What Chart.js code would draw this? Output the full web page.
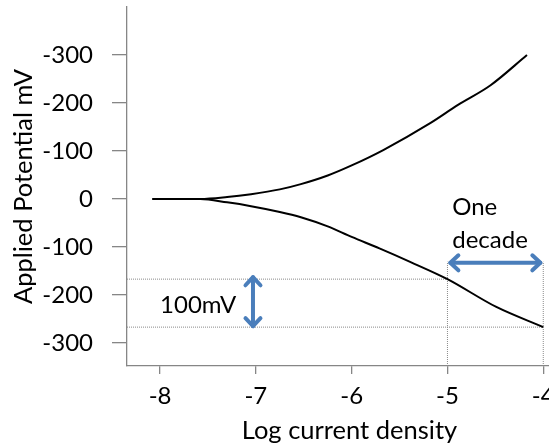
<!DOCTYPE html>
<html>
<head>
<meta charset="utf-8">
<script src="https://cdn.jsdelivr.net/npm/chart.js@4.4.1/dist/chart.umd.min.js"></script>
<style>
  html, body { margin:0; padding:0; background:#fff; overflow:hidden; }
  #wrap { width:549px; height:448px; overflow:hidden; }
</style>
</head>
<body>
<div id="wrap"><canvas id="polChart" width="600" height="448"></canvas></div>
<script>
/* ── Polarisation (Tafel) plot ── */

// anodic branch (drawn upward)
const ANODIC_LOGI = [-8.08, -7.58, -7.30, -7.05, -6.75, -6.53, -6.25, -6.00, -5.67, -5.18, -4.89, -4.55, -4.17];
const ANODIC_MV   = [0, 0, 4, 10, 20, 31, 49, 70, 102, 158, 196, 237, 300];

// cathodic branch (drawn downward)
const CATHODIC_LOGI = [-8.08, -7.58, -7.30, -7.05, -6.75, -6.53, -6.25, -6.00, -5.71, -5.39, -5.00, -4.49, -4.00];
const CATHODIC_MV   = [0, 0, -7, -15, -27, -38, -57, -79, -103, -131, -167, -225, -267];

const X_TICKS = [-8, -7, -6, -5, -4];
const Y_TICKS = [-300, -200, -100, 0, 100, 200, 300];
const Y_TICK_LABELS = ['-300', '-200', '-100', '0', '-100', '-200', '-300'];

// one decade / 100 mV guides
const GUIDE_MV     = [-167, -267];
const GUIDE_DECADE = [-5, -4];
const GUIDE_TOP    = -131;

const X_MIN = -8.345, X_MAX = -3.70;
const Y_MIN = -348,   Y_MAX = 400;

const ARROWS = [
  { x1:-7.03, y1:-163, x2:-7.03, y2:-265 },
  { x1:-4.97, y1:-133, x2:-4.03, y2:-133 },
];
const NOTES = [
  { text:'100mV',  x:-8.00, y:-221 },
  { text:'One',    x:-4.95, y:-17 },
  { text:'decade', x:-4.95, y:-86 },
];

const FONT = 'Lato';
const AXIS_GREY = '#868686';
const GUIDE_GREY = '#8a8a8a';
const ARROW_BLUE = '#4a7ebb';

const pts = (xs, ys) => xs.map((x, i) => ({ x, y: ys[i] }));

const guideSets = [
  { data:[{x:X_MIN, y:GUIDE_MV[0]}, {x:GUIDE_DECADE[0], y:GUIDE_MV[0]}] },
  { data:[{x:X_MIN, y:GUIDE_MV[1]}, {x:GUIDE_DECADE[1], y:GUIDE_MV[1]}] },
  { data:[{x:GUIDE_DECADE[0], y:Y_MIN}, {x:GUIDE_DECADE[0], y:GUIDE_TOP}] },
  { data:[{x:GUIDE_DECADE[1], y:Y_MIN}, {x:GUIDE_DECADE[1], y:GUIDE_TOP}] },
].map(d => ({ ...d, borderColor:GUIDE_GREY, borderWidth:1, borderDash:[1,1], pointRadius:0, tension:0 }));

function arrowHead(ctx, tx, ty, ang) {
  const L = 11, spread = 0.75;
  ctx.beginPath();
  ctx.moveTo(tx - L*Math.cos(ang - spread), ty - L*Math.sin(ang - spread));
  ctx.lineTo(tx, ty);
  ctx.lineTo(tx - L*Math.cos(ang + spread), ty - L*Math.sin(ang + spread));
  ctx.stroke();
}

const notesPlugin = {
  id:'notes',
  afterDatasetsDraw(chart) {
    const { ctx, scales:{ x, y } } = chart;
    ctx.save();
    ctx.strokeStyle = ARROW_BLUE;
    ctx.lineWidth = 4;
    ctx.lineCap = 'round';
    ctx.lineJoin = 'round';
    ARROWS.forEach(a => {
      const x1 = x.getPixelForValue(a.x1), y1 = y.getPixelForValue(a.y1);
      const x2 = x.getPixelForValue(a.x2), y2 = y.getPixelForValue(a.y2);
      const ang = Math.atan2(y2 - y1, x2 - x1);
      ctx.beginPath(); ctx.moveTo(x1, y1); ctx.lineTo(x2, y2); ctx.stroke();
      arrowHead(ctx, x2, y2, ang);
      arrowHead(ctx, x1, y1, ang + Math.PI);
    });
    ctx.fillStyle = '#000';
    ctx.font = `24px ${FONT}`;
    ctx.textAlign = 'left';
    ctx.textBaseline = 'middle';
    NOTES.forEach(n => ctx.fillText(n.text, x.getPixelForValue(n.x), y.getPixelForValue(n.y)));
    ctx.restore();
  }
};

new Chart(document.getElementById('polChart'), {
  type:'line',
  data:{
    datasets:[
      { data:pts(ANODIC_LOGI, ANODIC_MV),     borderColor:'#000', borderWidth:2, pointRadius:0, cubicInterpolationMode:'monotone' },
      { data:pts(CATHODIC_LOGI, CATHODIC_MV), borderColor:'#000', borderWidth:2, pointRadius:0, cubicInterpolationMode:'monotone' },
      ...guideSets
    ]
  },
  options:{
    responsive:false,
    animation:false,
    layout:{ padding:{ top:7, right:28, left:0, bottom:0 } },
    plugins:{ legend:{ display:false }, tooltip:{ enabled:false } },
    scales:{
      x:{
        type:'linear', min:X_MIN, max:X_MAX,
        afterBuildTicks: s => { s.ticks = X_TICKS.map(v => ({ value:v })); },
        afterFit: s => { s.height = 82; s.paddingLeft = 0; s.paddingRight = 0; },
        border:{ display:true, color:AXIS_GREY, width:1.3 },
        grid:{ drawOnChartArea:false, drawTicks:true, tickLength:8, color:AXIS_GREY, lineWidth:1.3 },
        ticks:{ color:'#000', padding:8, font:{ family:FONT, size:24 }, maxRotation:0 },
        title:{ display:true, text:'Log current density', color:'#000', font:{ family:FONT, size:25.5 }, padding:{ top:0, bottom:2 } }
      },
      y:{
        type:'linear', min:Y_MIN, max:Y_MAX,
        afterBuildTicks: s => { s.ticks = Y_TICKS.map(v => ({ value:v })); },
        afterFit: s => { s.width = 127; s.paddingTop = 0; s.paddingBottom = 0; },
        border:{ display:true, color:AXIS_GREY, width:1.3 },
        grid:{ drawOnChartArea:false, drawTicks:true, tickLength:15, color:AXIS_GREY, lineWidth:1.3 },
        ticks:{
          color:'#000', padding:19, font:{ family:FONT, size:24 },
          callback: v => Y_TICK_LABELS[Y_TICKS.indexOf(v)]
        },
        title:{ display:true, text:'Applied Potential mV', color:'#000', font:{ family:FONT, size:25.5 }, padding:{ top:8, bottom:0 } }
      }
    }
  },
  plugins:[notesPlugin]
});
</script>
</body>
</html>
